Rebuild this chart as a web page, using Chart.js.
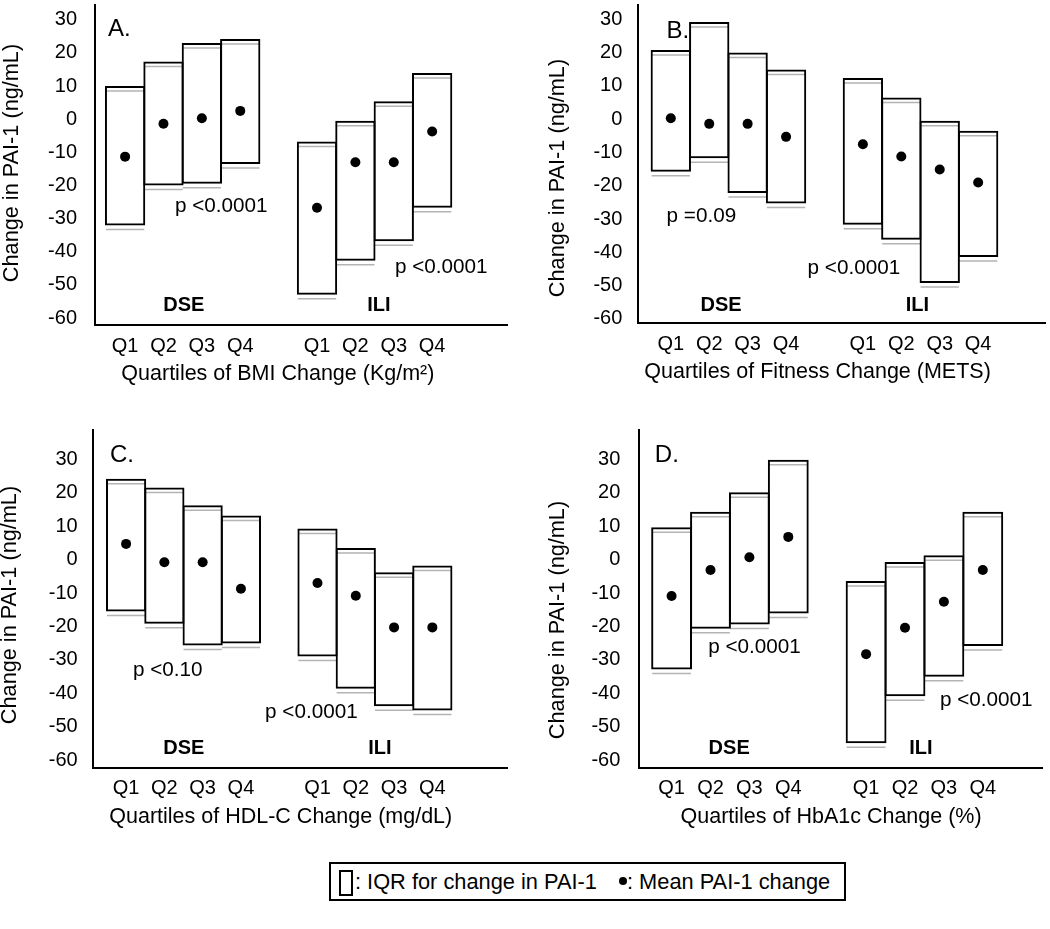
<!DOCTYPE html>
<html>
<head>
<meta charset="utf-8">
<script src="https://cdn.jsdelivr.net/npm/chart.js@4.4.1/dist/chart.umd.min.js"></script>
<style>
  html, body { margin:0; padding:0; background:#fff; }
  body { width:1050px; height:929px; position:relative; overflow:hidden; font-family:"Liberation Sans", Arial, sans-serif; color:#000; }
  canvas.pnl { position:absolute; }
  #legendBox { position:absolute; left:329px; top:862px; width:517px; height:39px; box-sizing:border-box; border:2px solid #000; }
  .lg { position:absolute; font-size:21.8px; line-height:24px; white-space:nowrap; }
  #lgIcon { position:absolute; left:339px; top:870px; width:14px; height:26px; box-sizing:border-box; border:2px solid #000; }
  #lgDot { position:absolute; left:619px; top:877px; width:8px; height:8px; border-radius:50%; background:#000; }
</style>
</head>
<body>
<canvas id="cA" class="pnl" width="525" height="420" style="left:0;top:0"></canvas>
<canvas id="cB" class="pnl" width="525" height="420" style="left:525px;top:0"></canvas>
<canvas id="cC" class="pnl" width="525" height="420" style="left:0;top:420px"></canvas>
<canvas id="cD" class="pnl" width="525" height="420" style="left:525px;top:420px"></canvas>

<div id="legendBox"></div>
<div id="lgIcon"></div>
<div class="lg" style="left:355px;top:870px">: IQR for change in PAI-1</div>
<div id="lgDot"></div>
<div class="lg" style="left:627px;top:870px">: Mean PAI-1 change</div>

<script>
// ---------------- DATA ----------------
const quartiles = ["Q1", "Q2", "Q3", "Q4"];
const groups = ["DSE", "ILI"];
const yTickValues = [-60, -50, -40, -30, -20, -10, 0, 10, 20, 30];
const yAxisTitle = "Change in PAI-1 (ng/mL)";

// Panel A: BMI change
const bmiDseIqrLow  = [-32.1, -20.0, -19.5, -13.5];
const bmiDseIqrHigh = [10.0, 17.4, 23.0, 24.2];
const bmiDseMean    = [-11.3, -1.4, 0.3, 2.5];
const bmiIliIqrLow  = [-53.0, -42.7, -36.8, -26.7];
const bmiIliIqrHigh = [-6.7, -0.5, 5.4, 13.9];
const bmiIliMean    = [-26.7, -13.0, -13.0, -3.7];

// Panel B: Fitness change
const fitDseIqrLow  = [-15.8, -11.7, -22.2, -25.3];
const fitDseIqrHigh = [20.8, 29.2, 20.0, 14.9];
const fitDseMean    = [0.3, -1.4, -1.4, -5.3];
const fitIliIqrLow  = [-31.7, -36.2, -49.2, -41.4];
const fitIliIqrHigh = [12.4, 6.5, -0.5, -3.5];
const fitIliMean    = [-7.5, -11.2, -15.1, -19.0];

// Panel C: HDL-C change
const hdlDseIqrLow  = [-15.5, -19.2, -25.7, -25.1];
const hdlDseIqrHigh = [24.2, 21.6, 16.3, 13.2];
const hdlDseMean    = [4.7, -0.8, -0.8, -8.7];
const hdlIliIqrLow  = [-29.0, -38.7, -43.9, -45.2];
const hdlIliIqrHigh = [9.3, 3.5, -3.8, -1.8];
const hdlIliMean    = [-7.0, -10.8, -20.3, -20.3];

// Panel D: HbA1c change
const hbaDseIqrLow  = [-32.9, -20.7, -19.4, -16.1];
const hbaDseIqrHigh = [9.7, 14.3, 20.2, 29.9];
const hbaDseMean    = [-10.9, -3.1, 0.7, 6.8];
const hbaIliIqrLow  = [-55.0, -40.9, -35.1, -25.9];
const hbaIliIqrHigh = [-6.4, -0.7, 1.3, 14.3];
const hbaIliMean    = [-28.3, -20.4, -12.6, -3.1];

const panelLetters = ["A.", "B.", "C.", "D."];
const xTitles = [
  "Quartiles of BMI Change (Kg/m\u00B2)",
  "Quartiles of Fitness Change (METS)",
  "Quartiles of HDL-C Change (mg/dL)",
  "Quartiles of HbA1c Change (%)"
];
const pValueDse = ["p <0.0001", "p =0.09", "p <0.10", "p <0.0001"];
const pValueIli = ["p <0.0001", "p <0.0001", "p <0.0001", "p <0.0001"];

// ---------------- LAYOUT (positions / styles) ----------------
const FONT = '"Liberation Sans", Arial, sans-serif';
const layouts = [
  { canvas:"cA", area:{left:95, top:0, right:507, bottom:325}, x:[0.216, 10.95], y:[-62.1, 34.45],
    yPad:18, yTitle:{x:12, y:163},
    letter:{x:0.555, y:27.0}, pDse:{x:2.30, y:-26.4}, pIli:{x:8.03, y:-44.8},
    grp:[{x:2.53, y:-56.1}, {x:7.61, y:-56.1}], xTitleAt:4.98 },
  { canvas:"cB", area:{left:113.3, top:0, right:525, bottom:323.3}, x:[0.154, 10.74], y:[-61.3, 34.3],
    yPad:16, yTitle:{x:33, y:178},
    letter:{x:0.89, y:26.3}, pDse:{x:0.89, y:-29.3}, pIli:{x:4.56, y:-44.7},
    grp:[{x:2.31, y:-55.9}, {x:7.42, y:-55.9}], xTitleAt:4.82 },
  { canvas:"cC", area:{left:92.7, top:10, right:507, bottom:347.7}, x:[0.128, 10.95], y:[-62.3, 38.8],
    yPad:15, yTitle:{x:10, y:185},
    letter:{x:0.58, y:31.3}, pDse:{x:1.18, y:-33.1}, pIli:{x:4.63, y:-45.6},
    grp:[{x:2.51, y:-56.4}, {x:7.63, y:-56.4}], xTitleAt:5.04 },
  { canvas:"cD", area:{left:114.3, top:10, right:517.7, bottom:347.7}, x:[0.17, 10.54], y:[-62.3, 38.8],
    yPad:19, yTitle:{x:33, y:200},
    letter:{x:0.57, y:31.3}, pDse:{x:1.94, y:-26.2}, pIli:{x:7.90, y:-42.1},
    grp:[{x:2.48, y:-56.4}, {x:7.41, y:-56.4}], xTitleAt:5.10 }
];

const panelData = [
  { dse:[bmiDseIqrLow, bmiDseIqrHigh, bmiDseMean], ili:[bmiIliIqrLow, bmiIliIqrHigh, bmiIliMean] },
  { dse:[fitDseIqrLow, fitDseIqrHigh, fitDseMean], ili:[fitIliIqrLow, fitIliIqrHigh, fitIliMean] },
  { dse:[hdlDseIqrLow, hdlDseIqrHigh, hdlDseMean], ili:[hdlIliIqrLow, hdlIliIqrHigh, hdlIliMean] },
  { dse:[hbaDseIqrLow, hbaDseIqrHigh, hbaDseMean], ili:[hbaIliIqrLow, hbaIliIqrHigh, hbaIliMean] }
];

// group offsets on the linear x scale (DSE boxes at 1..4, ILI boxes at 6..9)
const groupStart = [1, 6];

// faint grey "shadow" rules under each box edge, as in the original figure
const shadowPlugin = {
  id: 'shadowRules',
  beforeDatasetsDraw(chart) {
    const meta = chart.getDatasetMeta(0);
    const ctx = chart.ctx;
    ctx.save();
    ctx.strokeStyle = '#b4b4b4';
    ctx.lineWidth = 1.5;
    for (const el of meta.data) {
      const { x, y, base, width } = el.getProps(['x', 'y', 'base', 'width'], true);
      const top = Math.min(y, base), bot = Math.max(y, base);
      const l = x - width / 2 + 1, r = x + width / 2 - 1;
      ctx.beginPath();
      ctx.moveTo(l, top + 5); ctx.lineTo(r, top + 5);
      ctx.moveTo(l, bot + 4); ctx.lineTo(r, bot + 4);
      ctx.stroke();
    }
    ctx.restore();
  }
};

const annotPlugin = {
  id: 'annot',
  afterDraw(chart, args, o) {
    const { ctx, scales:{ x, y }, chartArea } = chart;
    ctx.save();
    ctx.fillStyle = '#000';
    ctx.textBaseline = 'middle';
    for (const t of o.items) {
      ctx.font = (t.bold ? 'bold ' : '') + t.size + 'px ' + FONT;
      ctx.textAlign = t.align;
      ctx.fillText(t.text, x.getPixelForValue(t.x), y.getPixelForValue(t.y));
    }
    ctx.font = '21.5px ' + FONT;
    ctx.textAlign = 'center';
    ctx.fillText(o.xTitle, x.getPixelForValue(o.xTitleAt), chartArea.bottom + 49);
    ctx.font = '21.7px ' + FONT;
    ctx.translate(o.yTitlePos.x, o.yTitlePos.y);
    ctx.rotate(-Math.PI / 2);
    ctx.fillText(yAxisTitle, 0, 0);
    ctx.restore();
  }
};

function buildPanel(i) {
  const L = layouts[i], D = panelData[i];
  const bars = [], dots = [], xTickVals = [], xTickLabels = [];
  [D.dse, D.ili].forEach((g, gi) => {
    quartiles.forEach((q, qi) => {
      const xv = groupStart[gi] + qi;
      bars.push({ x: xv, y: [g[0][qi], g[1][qi]] });
      dots.push({ x: xv, y: g[2][qi] });
      xTickVals.push(xv);
      xTickLabels.push(q);
    });
  });
  const items = [
    { text: panelLetters[i], x: L.letter.x, y: L.letter.y, size: 24, align: 'left' },
    { text: pValueDse[i], x: L.pDse.x, y: L.pDse.y, size: 20.7, align: 'left' },
    { text: pValueIli[i], x: L.pIli.x, y: L.pIli.y, size: 20.7, align: 'left' },
    { text: groups[0], x: L.grp[0].x, y: L.grp[0].y, size: 20, align: 'center', bold: true },
    { text: groups[1], x: L.grp[1].x, y: L.grp[1].y, size: 20, align: 'center', bold: true }
  ];
  const H = 420, W = 525;
  new Chart(document.getElementById(L.canvas), {
    type: 'bar',
    data: {
      datasets: [
        { type: 'bar', data: bars, backgroundColor: 'rgba(255,255,255,0)', borderColor: '#000',
          borderWidth: 2, borderSkipped: false, barPercentage: 1.05, categoryPercentage: 1, order: 2 },
        { type: 'scatter', data: dots, pointRadius: 5, pointBackgroundColor: '#000',
          pointBorderWidth: 0, pointBorderColor: '#000', order: 1 }
      ]
    },
    options: {
      responsive: false, animation: false, devicePixelRatio: 1,
      layout: { padding: { top: L.area.top, right: W - L.area.right, bottom: 0, left: 0 } },
      plugins: {
        legend: { display: false }, tooltip: { enabled: false },
        annot: { items, xTitle: xTitles[i], xTitleAt: L.xTitleAt, yTitlePos: L.yTitle }
      },
      scales: {
        x: {
          type: 'linear', min: L.x[0], max: L.x[1], offset: false,
          grid: { display: false, drawTicks: false },
          border: { display: true, color: '#000', width: 2 },
          afterBuildTicks: s => { s.ticks = xTickVals.map(v => ({ value: v })); },
          ticks: { autoSkip: false, maxRotation: 0, minRotation: 0, padding: 9, color: '#000',
                   font: { size: 20, family: FONT },
                   callback: (v, idx) => xTickLabels[idx] },
          afterFit: s => { s.height = H - L.area.bottom; s.paddingLeft = 0; s.paddingRight = 0; }
        },
        y: {
          type: 'linear', min: L.y[0], max: L.y[1],
          grid: { display: false, drawTicks: false },
          border: { display: true, color: '#000', width: 2 },
          afterBuildTicks: s => { s.ticks = yTickValues.map(v => ({ value: v })); },
          ticks: { autoSkip: false, padding: L.yPad, color: '#000', font: { size: 20, family: FONT } },
          afterFit: s => { s.width = L.area.left; s.paddingTop = 0; s.paddingBottom = 0; }
        }
      }
    },
    plugins: [shadowPlugin, annotPlugin]
  });
}

for (let i = 0; i < 4; i++) buildPanel(i);
</script>
</body>
</html>
